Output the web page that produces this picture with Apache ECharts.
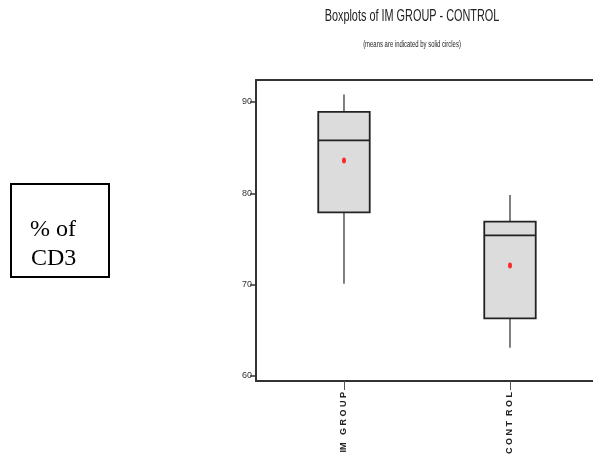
<!DOCTYPE html>
<html>
<head>
<meta charset="utf-8">
<script src="https://cdn.jsdelivr.net/npm/echarts@6/dist/echarts.min.js"></script>
<style>
html,body{margin:0;padding:0;background:#fff;}
#main{width:593px;height:461px;}
</style>
</head>
<body>
<div id="main"></div>
<script>
var categories = ['IM   G R O U P', 'C O N T  R O L'];
var catPos = [1, 2];
var whiskerLow = [70.1, 63.1];
var q1 = [77.9, 66.3];
var median = [85.8, 75.4];
var q3 = [88.9, 76.9];
var whiskerHigh = [90.8, 79.8];
var means = [83.6, 72.1];
var yTicks = [60, 70, 80, 90];

var sans = '"Liberation Sans", Arial, sans-serif';

var boxData = catPos.map(function (x, i) {
  return [x, whiskerLow[i], q1[i], median[i], q3[i], whiskerHigh[i]];
});
var meanData = catPos.map(function (x, i) { return [x, means[i]]; });

var chart = echarts.init(document.getElementById('main'), null, {renderer: 'canvas'});
chart.setOption({
  animation: false,
  backgroundColor: '#fff',
  grid: {left: 256, top: 80, right: 0, bottom: 80, show: false},
  xAxis: [{
    type: 'value', min: 0.47, max: 2.5,
    splitLine: {show: false},
    axisLine: {show: true, lineStyle: {color: '#333', width: 2}},
    axisTick: {show: true, customValues: catPos, length: 9, lineStyle: {color: '#555', width: 1}},
    axisLabel: {
      customValues: catPos, rotate: 90, margin: 11,
      fontFamily: sans, fontSize: 9, fontWeight: 'bold', color: '#222',
      formatter: function (v) {
        var idx = catPos.indexOf(Math.round(v));
        return idx >= 0 ? categories[idx] : '';
      }
    }
  }, {
    type: 'value', position: 'top', min: 0.47, max: 2.5,
    splitLine: {show: false},
    axisLine: {show: true, lineStyle: {color: '#333', width: 2}},
    axisTick: {show: false}, axisLabel: {show: false}
  }],
  yAxis: {
    type: 'value', min: 59.45, max: 92.4,
    splitLine: {show: false},
    axisLine: {show: true, lineStyle: {color: '#333', width: 2}},
    axisTick: {show: true, customValues: yTicks, length: 6, lineStyle: {color: '#333', width: 1.5}},
    axisLabel: {customValues: yTicks, margin: 4, fontFamily: sans, fontSize: 9, color: '#333'}
  },
  graphic: [
    {type: 'text', x: 412, y: 17, scaleX: 0.68, style: {
      x: 0, y: 0, text: 'Boxplots of IM GROUP - CONTROL', textAlign: 'center', textVerticalAlign: 'middle',
      font: '16px ' + sans, fill: '#222'}},
    {type: 'text', x: 412, y: 45, scaleX: 0.66, style: {
      x: 0, y: 0, text: '(means are indicated by solid circles)', textAlign: 'center', textVerticalAlign: 'middle',
      font: '9px ' + sans, fill: '#222'}},
    {type: 'rect', shape: {x: 11, y: 184, width: 98, height: 93},
      style: {fill: '#fff', stroke: '#000', lineWidth: 2}},
    {type: 'text', style: {x: 30, y: 218, text: '% of', font: '24px "Liberation Serif", "DejaVu Serif", serif',
      fill: '#000', textVerticalAlign: 'alphabetic'}},
    {type: 'text', style: {x: 31, y: 247, text: 'CD3', font: '24px "Liberation Serif", "DejaVu Serif", serif',
      fill: '#000', textVerticalAlign: 'alphabetic'}}
  ],
  series: [
    {
      type: 'custom',
      data: boxData,
      encode: {x: 0, y: [1, 2, 3, 4, 5]},
      renderItem: function (params, api) {
        var x = api.value(0);
        var halfW = 0.155;
        var pLow = api.coord([x, api.value(1)]);
        var pQ1 = api.coord([x, api.value(2)]);
        var pMed = api.coord([x, api.value(3)]);
        var pQ3 = api.coord([x, api.value(4)]);
        var pHigh = api.coord([x, api.value(5)]);
        var left = api.coord([x - halfW, 0])[0];
        var right = api.coord([x + halfW, 0])[0];
        return {
          type: 'group',
          children: [
            {type: 'line', shape: {x1: pHigh[0], y1: pHigh[1], x2: pQ3[0], y2: pQ3[1]},
              style: {stroke: '#555', lineWidth: 1.5}},
            {type: 'line', shape: {x1: pQ1[0], y1: pQ1[1], x2: pLow[0], y2: pLow[1]},
              style: {stroke: '#555', lineWidth: 1.5}},
            {type: 'rect', shape: {x: left, y: pQ3[1], width: right - left, height: pQ1[1] - pQ3[1]},
              style: {fill: '#dcdcdc', stroke: '#222', lineWidth: 1.8}},
            {type: 'line', shape: {x1: left, y1: pMed[1], x2: right, y2: pMed[1]},
              style: {stroke: '#222', lineWidth: 1.8}}
          ]
        };
      }
    },
    {
      type: 'scatter',
      data: meanData,
      symbol: 'circle',
      symbolSize: [4, 6],
      itemStyle: {color: '#ff0000'},
      z: 5
    }
  ]
});
</script>
</body>
</html>
